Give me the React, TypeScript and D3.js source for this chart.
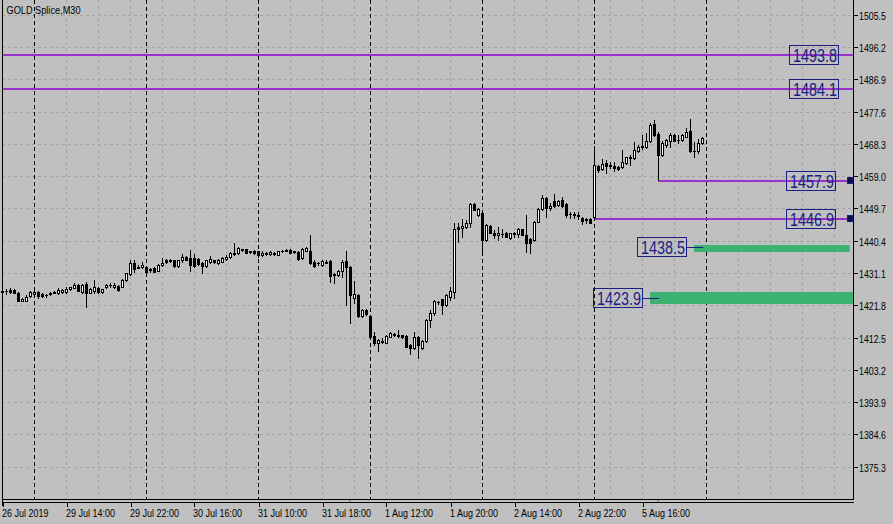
import * as d3 from "d3";

// price axis labels (right side)
const yTicks = [1505.5, 1496.2, 1486.9, 1477.6, 1468.3, 1459.0, 1449.7, 1440.4, 1431.1, 1421.8, 1412.5, 1403.2, 1393.9, 1384.6, 1375.3];

// time axis labels, one every 16 bars
const timeLabels = ["26 Jul 2019", "29 Jul 14:00", "29 Jul 22:00", "30 Jul 16:00", "31 Jul 10:00", "31 Jul 18:00", "1 Aug 12:00", "1 Aug 20:00", "2 Aug 14:00", "2 Aug 22:00", "5 Aug 16:00"];
const timeLabelBars = [0, 16, 32, 48, 64, 80, 96, 112, 128, 144, 160];
const daySeparatorBars = [8, 36, 64, 92, 120, 148, 176];

// M30 candles, oldest first
const open = [
  1425.6, 1425.8, 1426.2, 1426.2, 1425.4, 1423.1, 1423.1, 1424.5, 1425.0, 1425.7,
  1425.0, 1424.8, 1425.1, 1425.4, 1425.3, 1425.6, 1425.6, 1426.4, 1426.9, 1427.6,
  1425.6, 1427.8, 1425.4, 1426.0, 1426.9, 1425.5, 1427.0, 1427.5, 1427.0, 1427.4,
  1427.2, 1429.1, 1430.8, 1433.9, 1432.9, 1432.7, 1432.7, 1432.2, 1432.5, 1431.8,
  1433.4, 1434.9, 1434.5, 1434.7, 1433.1, 1434.7, 1435.6, 1435.3, 1435.3, 1435.0,
  1434.1, 1433.1, 1434.2, 1434.7, 1433.9, 1434.4, 1435.0, 1435.6, 1436.6, 1436.8,
  1437.9, 1437.9, 1437.2, 1437.4, 1437.3, 1436.4, 1436.8, 1436.7, 1436.9, 1436.4,
  1437.3, 1437.4, 1437.7, 1437.4, 1437.2, 1435.3, 1437.5, 1437.5, 1434.4, 1433.9,
  1433.4, 1434.1, 1434.6, 1430.8, 1430.5, 1431.8, 1434.6, 1432.9, 1423.8, 1424.8,
  1418.7, 1420.5, 1418.7, 1413.0, 1410.9, 1411.1, 1411.0, 1412.8, 1413.2, 1413.1,
  1413.1, 1413.0, 1410.4, 1409.4, 1412.8, 1409.4, 1411.5, 1417.6, 1419.5, 1422.6,
  1423.5, 1421.9, 1424.3, 1425.7, 1444.4, 1444.2, 1444.3, 1445.4, 1451.0, 1447.8,
  1448.5, 1440.6, 1444.6, 1442.5, 1442.1, 1442.4, 1442.5, 1441.1, 1442.3, 1442.2,
  1443.7, 1442.0, 1440.8, 1440.6, 1445.9, 1449.4, 1452.6, 1449.7, 1451.7, 1450.7,
  1452.1, 1451.0, 1448.1, 1447.9, 1447.7, 1446.9, 1446.5, 1446.6, 1447.3, 1461.9,
  1461.1, 1462.9, 1462.1, 1461.9, 1461.7, 1461.5, 1462.9, 1464.3, 1464.1, 1466.3,
  1467.4, 1467.5, 1469.2, 1474.0, 1471.1, 1465.1, 1468.0, 1469.2, 1470.8, 1469.4,
  1469.4, 1470.4, 1472.1, 1466.3, 1466.1, 1468.5,
];
const high = [
  1426.2, 1426.4, 1426.7, 1426.4, 1425.7, 1424.0, 1424.7, 1425.9, 1426.0, 1425.9,
  1425.2, 1425.1, 1425.6, 1426.0, 1426.7, 1426.4, 1427.0, 1427.2, 1428.1, 1427.9,
  1427.9, 1428.4, 1426.7, 1429.1, 1427.2, 1426.6, 1427.9, 1428.1, 1428.3, 1427.7,
  1429.3, 1431.2, 1434.9, 1434.7, 1433.4, 1434.4, 1433.1, 1432.5, 1432.7, 1433.7,
  1435.3, 1435.1, 1435.0, 1434.9, 1434.9, 1436.6, 1436.0, 1437.7, 1436.6, 1435.3,
  1434.4, 1434.9, 1436.0, 1434.9, 1435.0, 1435.6, 1436.2, 1437.2, 1439.8, 1438.5,
  1438.1, 1438.1, 1437.5, 1437.7, 1437.5, 1437.3, 1437.2, 1437.4, 1437.2, 1437.5,
  1437.7, 1437.9, 1437.9, 1437.5, 1437.4, 1438.2, 1438.7, 1442.1, 1434.7, 1434.4,
  1434.9, 1434.7, 1434.8, 1431.0, 1432.0, 1434.9, 1437.4, 1433.1, 1428.8, 1425.0,
  1420.7, 1420.8, 1419.0, 1414.2, 1412.0, 1412.3, 1413.3, 1414.0, 1413.7, 1414.7,
  1413.2, 1413.2, 1410.6, 1414.2, 1413.0, 1411.8, 1417.8, 1420.5, 1423.3, 1423.1,
  1423.7, 1425.1, 1427.2, 1445.4, 1445.4, 1446.6, 1446.4, 1451.2, 1451.2, 1449.7,
  1448.8, 1445.1, 1444.9, 1443.5, 1444.3, 1443.7, 1442.8, 1442.7, 1443.0, 1444.0,
  1443.9, 1447.8, 1441.1, 1446.2, 1449.7, 1453.6, 1452.9, 1451.2, 1453.9, 1452.1,
  1453.1, 1451.2, 1448.8, 1448.8, 1448.8, 1447.3, 1446.9, 1446.8, 1467.7, 1462.2,
  1463.8, 1463.7, 1463.2, 1463.2, 1462.0, 1466.5, 1464.6, 1465.1, 1468.7, 1468.0,
  1470.8, 1471.3, 1474.2, 1475.2, 1471.8, 1469.0, 1469.6, 1471.3, 1471.0, 1470.8,
  1471.1, 1472.8, 1475.4, 1468.9, 1469.6, 1470.2,
];
const low = [
  1425.1, 1425.1, 1425.3, 1425.3, 1422.9, 1422.9, 1422.9, 1424.3, 1424.8, 1424.0,
  1424.2, 1424.3, 1424.9, 1425.3, 1425.1, 1425.4, 1425.4, 1426.2, 1426.7, 1425.8,
  1425.4, 1421.2, 1425.3, 1425.3, 1425.4, 1425.3, 1426.7, 1427.0, 1426.7, 1426.0,
  1427.0, 1428.9, 1430.5, 1431.5, 1432.4, 1432.5, 1431.0, 1431.5, 1431.3, 1431.6,
  1433.1, 1434.1, 1434.3, 1432.9, 1432.9, 1434.4, 1434.7, 1431.8, 1432.9, 1433.4,
  1431.0, 1432.9, 1433.9, 1434.1, 1433.7, 1434.2, 1434.9, 1435.4, 1436.4, 1436.6,
  1437.5, 1436.8, 1437.0, 1436.6, 1435.8, 1436.0, 1436.4, 1436.2, 1436.3, 1436.2,
  1437.2, 1437.3, 1436.8, 1436.8, 1434.9, 1435.1, 1437.3, 1433.7, 1432.9, 1433.5,
  1433.2, 1433.9, 1428.6, 1428.1, 1430.3, 1430.0, 1421.9, 1416.6, 1422.4, 1418.3,
  1418.3, 1419.1, 1412.6, 1410.4, 1408.7, 1410.9, 1410.9, 1412.6, 1413.0, 1412.8,
  1412.4, 1409.7, 1407.8, 1409.1, 1406.5, 1409.1, 1411.3, 1415.5, 1419.0, 1422.2,
  1419.2, 1421.7, 1423.3, 1423.8, 1440.1, 1441.6, 1444.0, 1444.3, 1449.1, 1447.5,
  1437.5, 1440.4, 1442.5, 1441.1, 1440.6, 1441.6, 1441.4, 1440.9, 1441.6, 1441.6,
  1441.9, 1437.2, 1436.8, 1440.4, 1445.7, 1449.3, 1447.3, 1449.3, 1450.2, 1450.5,
  1450.2, 1447.3, 1446.9, 1446.9, 1446.6, 1445.2, 1445.4, 1445.4, 1446.9, 1460.3,
  1460.8, 1460.0, 1461.2, 1460.6, 1460.9, 1461.3, 1462.4, 1462.2, 1463.8, 1466.0,
  1466.7, 1467.0, 1468.9, 1470.7, 1457.9, 1464.8, 1467.5, 1467.5, 1469.0, 1468.6,
  1469.2, 1470.2, 1465.9, 1464.6, 1465.8, 1468.3,
];
const close = [
  1425.8, 1426.0, 1425.6, 1425.4, 1423.1, 1423.6, 1424.3, 1425.5, 1425.7, 1424.5,
  1424.5, 1424.7, 1425.4, 1425.7, 1426.2, 1426.1, 1426.6, 1427.0, 1427.7, 1426.0,
  1427.7, 1425.4, 1426.4, 1427.0, 1425.6, 1426.4, 1427.6, 1427.7, 1427.7, 1426.2,
  1429.1, 1431.0, 1433.9, 1432.2, 1432.6, 1433.5, 1431.5, 1431.9, 1431.5, 1433.4,
  1434.1, 1434.3, 1434.8, 1433.1, 1434.7, 1435.8, 1434.9, 1433.4, 1433.1, 1433.7,
  1433.1, 1434.7, 1435.0, 1434.4, 1434.9, 1435.3, 1435.8, 1436.8, 1437.0, 1438.2,
  1437.7, 1437.0, 1437.4, 1437.0, 1436.3, 1437.0, 1436.7, 1437.1, 1436.7, 1437.3,
  1437.5, 1437.6, 1437.0, 1437.1, 1435.2, 1437.9, 1438.2, 1433.9, 1433.1, 1434.1,
  1434.6, 1434.3, 1430.3, 1430.6, 1431.7, 1434.4, 1432.9, 1424.8, 1425.1, 1418.7,
  1420.5, 1419.3, 1412.8, 1410.9, 1411.8, 1411.5, 1413.0, 1413.7, 1413.4, 1413.0,
  1412.6, 1409.9, 1409.4, 1412.6, 1410.4, 1411.5, 1417.6, 1419.5, 1422.9, 1422.8,
  1421.9, 1424.8, 1426.0, 1443.7, 1443.7, 1444.6, 1445.4, 1451.0, 1449.3, 1449.4,
  1440.6, 1444.9, 1442.7, 1442.1, 1442.5, 1442.3, 1441.6, 1442.5, 1442.5, 1443.7,
  1442.0, 1439.8, 1439.8, 1445.9, 1449.4, 1452.6, 1449.7, 1450.4, 1450.4, 1451.9,
  1450.4, 1447.8, 1448.0, 1448.0, 1447.6, 1446.2, 1446.6, 1445.6, 1462.2, 1460.8,
  1462.5, 1461.9, 1461.9, 1461.2, 1461.1, 1463.0, 1464.4, 1464.5, 1466.5, 1467.5,
  1467.6, 1469.1, 1473.7, 1470.8, 1465.1, 1468.5, 1469.4, 1470.8, 1469.2, 1469.3,
  1470.8, 1471.8, 1466.1, 1466.1, 1468.5, 1469.9,
];

// drawn objects
const hLineLevels = [1493.8, 1484.1];
const rayLevels = [1457.9, 1446.9];
const rayStartBars = [164, 148];
const zoneLevels = [1438.5, 1423.9];
const zoneLow = [1437.2, 1422.2];
const zoneHigh = [1439.2, 1425.7];
const zoneStartBars = [173, 162];
const zoneEndBars = [211.8, 214];
const axisMarkBars = [86.8, 163.9];

const W = 893;
const H = 524;
const plotL = 2;
const plotR = 853;
const plotB = 500;

const BG = "#c0c0c0";
const GRID = "#a4a4a4";
const PURPLE = "#9932cc";
const NAVY = "#1c1c82";
const GREEN = "#3cb371";
const FONT = "'Liberation Sans', Arial, sans-serif";

function PriceBox({ x, y, label }: { x: number; y: number; label: string }) {
  return (
    <g>
      <rect x={x + 0.5} y={Math.round(y) - 9.5} width={49} height={19} fill="none" stroke={NAVY} strokeWidth={1} />
      <text
        x={x + 4}
        y={Math.round(y) + 6.5}
        fontFamily={FONT}
        fontSize={18}
        fill={NAVY}
        textLength={44}
        lengthAdjust="spacingAndGlyphs"
      >
        {label}
      </text>
    </g>
  );
}

export default function App() {
  const x = d3.scaleLinear().domain([0, 176]).range([2.5, 706.5]);
  const y = d3.scaleLinear().domain([1375.3, 1505.5]).range([466.7, 14.7]);
  const py = (p: number) => Math.round(y(p));

  const gridBars = d3.range(8, 213, 8).filter((b) => !daySeparatorBars.includes(b));

  const candles = open.map((o, i) => ({ i, o, h: high[i], l: low[i], c: close[i] }));

  return (
    <svg
      width={W}
      height={H}
      viewBox={`0 0 ${W} ${H}`}
      style={{ position: "absolute", left: 0, top: 0, display: "block" }}
    >
      <rect x={0} y={0} width={W} height={H} fill={BG} />

      {/* horizontal grid */}
      {yTicks.map((t) => (
        <line key={"hg" + t} x1={plotL} x2={plotR} y1={py(t) + 0.5} y2={py(t) + 0.5} stroke={GRID} strokeDasharray="3,3" />
      ))}
      {/* vertical grid */}
      {gridBars.map((b) => (
        <line key={"vg" + b} x1={x(b)} x2={x(b)} y1={0} y2={plotB} stroke={GRID} strokeDasharray="3,3" />
      ))}
      {/* day separators */}
      {daySeparatorBars.map((b) => (
        <line key={"sep" + b} x1={x(b)} x2={x(b)} y1={0} y2={plotB} stroke="#000" strokeDasharray="4,3" />
      ))}

      {/* supply / demand zones */}
      {zoneLevels.map((lv, k) => {
        const x0 = x(zoneStartBars[k]) - 0.5;
        const x1 = Math.min(x(zoneEndBars[k]), plotR);
        return (
          <rect key={"z" + lv} x={x0} y={py(zoneHigh[k])} width={x1 - x0} height={py(zoneLow[k]) - py(zoneHigh[k])} fill={GREEN} />
        );
      })}

      {/* horizontal lines */}
      {hLineLevels.map((lv) => (
        <line key={"hl" + lv} x1={plotL} x2={plotR} y1={py(lv)} y2={py(lv)} stroke={PURPLE} strokeWidth={2} />
      ))}
      {rayLevels.map((lv, k) => (
        <line key={"ray" + lv} x1={x(rayStartBars[k])} x2={plotR} y1={py(lv) + 1} y2={py(lv) + 1} stroke={PURPLE} strokeWidth={2} />
      ))}

      {/* candles */}
      {candles.map((d) => {
        const cx = x(d.i);
        const top = py(Math.max(d.o, d.c));
        const bot = py(Math.min(d.o, d.c));
        const bull = d.c >= d.o;
        return (
          <g key={"c" + d.i}>
            <line x1={cx} x2={cx} y1={py(d.h)} y2={py(d.l) + 1} stroke="#000" strokeWidth={1} />
            {bot - top < 1 ? (
              <line x1={cx - 1.5} x2={cx + 1.5} y1={top + 0.5} y2={top + 0.5} stroke="#000" />
            ) : bull ? (
              <rect x={cx - 1} y={top + 0.5} width={2} height={bot - top} fill="#fff" stroke="#000" strokeWidth={1} />
            ) : (
              <rect x={cx - 1.5} y={top} width={3} height={bot - top + 1} fill="#000" />
            )}
          </g>
        );
      })}

      {/* zone labels with connectors */}
      {zoneLevels.map((lv, k) => {
        const x0 = x(zoneStartBars[k]);
        const yy = py(lv) + 0.5;
        return (
          <g key={"zl" + lv}>
            <line x1={x0 - 8} x2={x(zoneStartBars[k] + 2.2)} y1={yy} y2={yy} stroke={NAVY} strokeWidth={1} />
            <PriceBox x={x0 - 57.5} y={py(lv)} label={lv.toFixed(1)} />
          </g>
        );
      })}

      {/* right side price labels */}
      {hLineLevels.map((lv) => (
        <PriceBox key={"hb" + lv} x={789} y={py(lv)} label={lv.toFixed(1)} />
      ))}
      {rayLevels.map((lv) => (
        <g key={"rb" + lv}>
          <PriceBox x={786} y={py(lv) + 1} label={lv.toFixed(1)} />
          <rect x={847.5} y={py(lv) - 2.5} width={5} height={6} fill="#101040" stroke={NAVY} strokeWidth={1} />
        </g>
      ))}

      {/* frame */}
      <line x1={plotL + 0.5} x2={plotL + 0.5} y1={0} y2={506} stroke="#000" />
      <line x1={plotR + 0.5} x2={plotR + 0.5} y1={0} y2={plotB} stroke="#000" />
      <line x1={plotL} x2={plotR + 1} y1={plotB - 0.5} y2={plotB - 0.5} stroke="#000" />
      <line x1={plotL} x2={plotR + 1} y1={plotB + 2.5} y2={plotB + 2.5} stroke="#000" />
      {axisMarkBars.map((b) => (
        <rect key={"am" + b} x={Math.round(x(b)) - 1} y={plotB + 0.5} width={2} height={1} fill={PURPLE} />
      ))}

      {/* price axis */}
      {yTicks.map((t) => (
        <g key={"yt" + t}>
          <line x1={plotR + 1} x2={plotR + 5} y1={py(t) + 0.5} y2={py(t) + 0.5} stroke="#000" />
          <text
            transform={`translate(${plotR + 6},${py(t) + 4.5}) scale(0.88,1)`}
            fontFamily={FONT}
            fontSize={10}
            fill="#000"
          >
            {t.toFixed(1)}
          </text>
        </g>
      ))}

      {/* time axis */}
      {timeLabels.map((lab, k) => {
        const tx = Math.round(x(timeLabelBars[k])) + 0.5;
        return (
          <g key={"tl" + lab}>
            <line x1={tx} x2={tx} y1={plotB + 3} y2={plotB + 7} stroke="#000" />
            <text
              transform={`translate(${tx - 1.5},${516.5}) scale(0.9,1)`}
              fontFamily={FONT}
              fontSize={10}
              fill="#000"
            >
              {lab}
            </text>
          </g>
        );
      })}

      {/* title */}
      <text transform="translate(6.5,13.5) scale(0.92,1)" fontFamily={FONT} fontSize={10} fill="#000">
        GOLD Splice,M30
      </text>
    </svg>
  );
}
